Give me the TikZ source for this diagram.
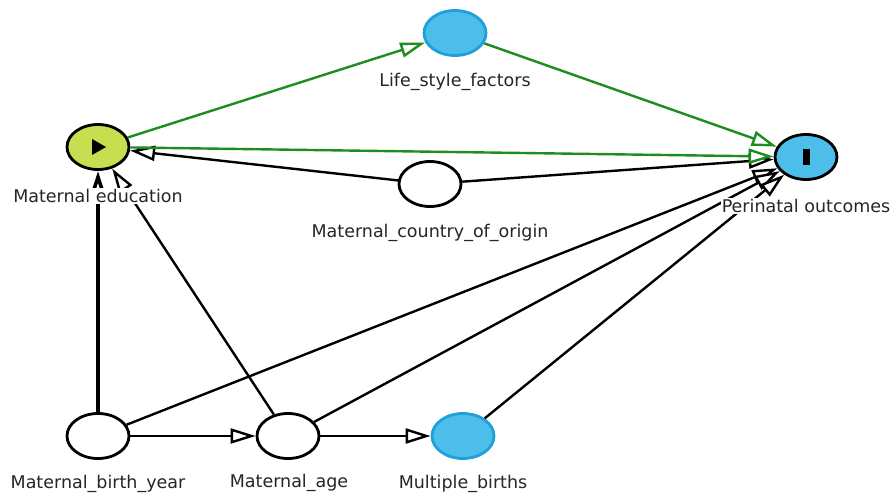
\documentclass[tikz,border=0pt]{standalone}
\usepackage{fontspec}
\setmainfont{DejaVu Sans}
\usetikzlibrary{shapes.geometric,arrows.meta}
\definecolor{dagblue}{RGB}{77,190,233}
\definecolor{dagblueline}{RGB}{30,160,220}
\definecolor{daglime}{RGB}{200,221,80}
\definecolor{daggreen}{RGB}{30,140,30}
\tikzset{
	var/.style={ellipse, draw=black, line width=2.8pt, fill=white, minimum width=62pt, minimum height=45pt, inner sep=0pt},
	lbl/.style={fill=white, inner sep=1pt, text=black!85, font=\fontsize{17.5}{20}\selectfont},
	edge/.style={line width=2.4pt, -{Triangle[length=25pt,width=15pt,fill=white]}},
	causal/.style={edge, draw=daggreen}
}
\begin{document}
\begin{tikzpicture}[x=1pt, y=-1pt]
	\useasboundingbox (0,0) rectangle (895,495);
	
	\node[var, fill=daglime] (ME) at (98,147) {};
	\node[var, fill=dagblue, draw=dagblueline] (LSF) at (455,33) {};
	\node[var, fill=dagblue] (PO) at (806,157) {};
	\node[var] (MCO) at (430,184) {};
	\node[var] (MBY) at (98,436) {};
	\node[var] (MA) at (288,436) {};
	\node[var, fill=dagblue, draw=dagblueline] (MB) at (463,436) {};
	
	\fill (92,139) -- (106,147) -- (92,155) -- cycle;
	\fill (803,149) rectangle (810,165);
	
	\draw[edge] (MCO) -- (ME);
	\draw[edge] (MCO) -- (PO);
	\draw[edge, line width=3.6pt] (MBY) -- (ME);
	\draw[edge] (MBY) -- (PO);
	\draw[edge] (MBY) -- (MA);
	\draw[edge] (MA) -- (ME);
	\draw[edge] (MA) -- (PO);
	\draw[edge] (MA) -- (MB);
	\draw[edge] (MB) -- (PO);
	\draw[causal] (ME) -- (LSF);
	\draw[causal] (LSF) -- (PO);
	\draw[causal] (ME) -- (PO);
	
	\node[lbl] (MEl) at (98,196) {Maternal education};
	\node[lbl] (LSFl) at (455,82) {Life\_style\_factors};
	\node[lbl] (POl) at (806,206) {Perinatal outcomes};
	\node[lbl] (MCOl) at (430,233) {Maternal\_country\_of\_origin};
	\node[lbl] (MBYl) at (98,484) {Maternal\_birth\_year};
	\node[lbl] (MAl) at (289,483) {Maternal\_age};
	\node[lbl] (MBl) at (463,484) {Multiple\_births};
\end{tikzpicture}
\end{document}
